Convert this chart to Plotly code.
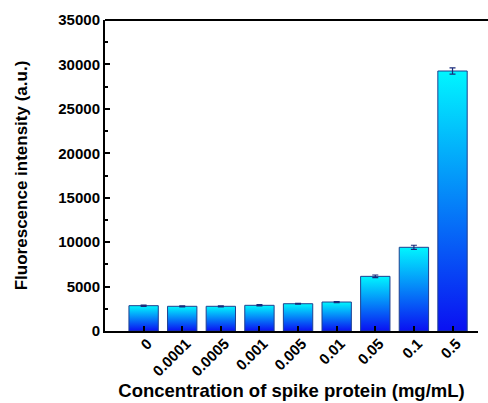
import plotly.graph_objects as go

categories = ["0", "0.0001", "0.0005", "0.001", "0.005", "0.01", "0.05", "0.1", "0.5"]
values = [2850, 2780, 2780, 2890, 3070, 3260, 6150, 9420, 29260]
errors = [70, 60, 60, 70, 40, 60, 150, 230, 350]
y_ticks = [0, 5000, 10000, 15000, 20000, 25000, 30000, 35000]

BAR_W = 0.76
FONT = "Liberation Sans, Arial, sans-serif"

fig = go.Figure()
xs = list(range(len(categories)))
for i, v in zip(xs, values):
    x0, x1 = i - BAR_W / 2, i + BAR_W / 2
    fig.add_trace(go.Scatter(
        x=[x0, x0, x1, x1, x0], y=[0, v, v, 0, 0],
        mode="lines", fill="toself",
        line=dict(color="#1f3f8f", width=1),
        fillgradient=dict(type="vertical",
                          colorscale=[[0, "#0a10f2"], [1, "#00f6ff"]]),
        showlegend=False, hoverinfo="skip",
    ))

fig.add_trace(go.Scatter(
    x=xs, y=values, mode="markers",
    marker=dict(size=1, opacity=0),
    error_y=dict(type="data", array=errors, color="#1a2a7a", thickness=1.2, width=3),
    showlegend=False,
))

fig.add_shape(type="line", xref="paper", yref="paper", x0=0, x1=1.05, y0=1, y1=1,
              line=dict(color="black", width=2))

fig.update_layout(
    width=488, height=403,
    margin=dict(l=105, r=10, t=20, b=72, autoexpand=False),
    plot_bgcolor="white", paper_bgcolor="white",
    font=dict(family=FONT, color="black"),
    xaxis=dict(
        range=[-1.0, 8.66], automargin=False,
        tickmode="array", tickvals=xs,
        ticktext=[f"<b>{c}</b>" for c in categories],
        tickangle=-45, ticklabelstandoff=-4, ticklabelshift=4,
        ticks="inside", ticklen=5, tickwidth=2, tickcolor="black",
        showline=True, linewidth=2, linecolor="black", mirror=False,
        showgrid=False, zeroline=False,
        tickfont=dict(size=15, family=FONT),
        title=dict(text="<b>Concentration of spike protein (mg/mL)</b>",
                   font=dict(size=18.5, family=FONT), standoff=6),
    ),
    yaxis=dict(
        range=[0, 35000], automargin=False,
        tickmode="array", tickvals=y_ticks,
        ticktext=[f"<b>{t}</b>" for t in y_ticks],
        ticks="inside", ticklen=5, tickwidth=2, tickcolor="black",
        minor=dict(ticks="inside", ticklen=3, tickwidth=1.5, tickcolor="black", dtick=2500, showgrid=False),
        showline=True, linewidth=2, linecolor="black", mirror=False,
        showgrid=False, zeroline=False,
        tickfont=dict(size=15, family=FONT),
        title=dict(text="<b>Fluorescence intensity (a.u.)</b>",
                   font=dict(size=17, family=FONT), standoff=26),
    ),
)

fig.write_html("out.html")
